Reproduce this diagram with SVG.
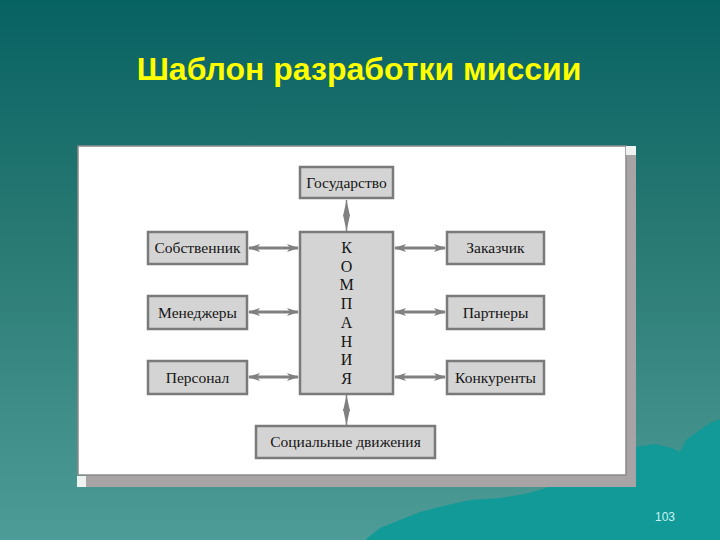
<svg xmlns="http://www.w3.org/2000/svg" width="720" height="540" viewBox="0 0 720 540">
<defs>
<linearGradient id="bg" x1="0" y1="0" x2="0" y2="1">
<stop offset="0" stop-color="#076262"/>
<stop offset="0.45" stop-color="#2a7a74"/>
<stop offset="1" stop-color="#4e9c97"/>
</linearGradient>
<marker id="ah" viewBox="0 0 12 8" refX="11" refY="4" markerWidth="12" markerHeight="8" markerUnits="userSpaceOnUse" orient="auto-start-reverse">
<path d="M0,0 L12,4 L0,8 L3,4 z" fill="#808080"/>
</marker>
<marker id="av" viewBox="0 0 16 7" refX="16" refY="3.5" markerWidth="16" markerHeight="7" markerUnits="userSpaceOnUse" orient="auto-start-reverse">
<path d="M0,0 L16,3.5 L0,7 z" fill="#808080"/>
</marker>
</defs>
<style>
.box{fill:#d4d4d4;stroke:#7a7a7a;stroke-width:2.5}
.lbl{font-family:"Liberation Serif","Times New Roman",serif;font-size:15.5px;fill:#151515;text-anchor:middle}
.let{font-size:16px}
.con{stroke:#808080;stroke-width:3;fill:none}
.conv{stroke:#808080;stroke-width:1.5;fill:none}
</style>
<rect x="0" y="0" width="720" height="540" fill="url(#bg)"/>
<path d="M365,540 L380,528 L400,520 L420,512 L443,506 L470,500 L500,498 L525,494 L540,490 L548,487 L575,487 L578,430 L636,430 L636,447 L655,444 L672,448 L680,452 L686,440 L700,430 L710,423 L720,419 L720,540 z" fill="#119a97"/>
<text x="359" y="80" font-family="'Liberation Sans',Arial,sans-serif" font-weight="bold" font-size="32" fill="#ffff00" text-anchor="middle">Шаблон разработки миссии</text>
<g id="panel">
<rect x="86" y="155" width="550" height="332" fill="#a8a4a6"/>
<rect x="78" y="146" width="548" height="329" fill="#ffffff" stroke="#8a8a8a" stroke-width="1.5"/>
<rect x="626" y="146" width="10" height="9" fill="#eef2f0"/>
<rect x="77" y="476" width="9" height="11" fill="#eef2f0"/>
</g>
<g id="connectors">
<line class="con" x1="249" y1="248" x2="298" y2="248" marker-start="url(#ah)" marker-end="url(#ah)"/>
<line class="con" x1="249" y1="312" x2="298" y2="312" marker-start="url(#ah)" marker-end="url(#ah)"/>
<line class="con" x1="249" y1="377" x2="298" y2="377" marker-start="url(#ah)" marker-end="url(#ah)"/>
<line class="con" x1="395" y1="248" x2="445" y2="248" marker-start="url(#ah)" marker-end="url(#ah)"/>
<line class="con" x1="395" y1="312" x2="445" y2="312" marker-start="url(#ah)" marker-end="url(#ah)"/>
<line class="con" x1="395" y1="377" x2="445" y2="377" marker-start="url(#ah)" marker-end="url(#ah)"/>
<line class="conv" x1="346.5" y1="200" x2="346.5" y2="231" marker-start="url(#av)" marker-end="url(#av)"/>
<line class="conv" x1="346.5" y1="395" x2="346.5" y2="425" marker-start="url(#av)" marker-end="url(#av)"/>
</g>
<g id="gosudarstvo"><rect class="box" x="300" y="167" width="93" height="31"/><text class="lbl" x="346.5" y="188">Государство</text></g>
<g id="kompaniya"><rect class="box" x="300" y="232" width="93" height="162"/>
<text class="lbl let" x="346.5" y="253">К</text>
<text class="lbl let" x="346.5" y="271.7">О</text>
<text class="lbl let" x="346.5" y="290.4">М</text>
<text class="lbl let" x="346.5" y="309.1">П</text>
<text class="lbl let" x="346.5" y="327.8">А</text>
<text class="lbl let" x="346.5" y="346.5">Н</text>
<text class="lbl let" x="346.5" y="365.2">И</text>
<text class="lbl let" x="346.5" y="384">Я</text>
</g>
<g id="sobstvennik"><rect class="box" x="148" y="232" width="99" height="32"/><text class="lbl" x="197.5" y="253">Собственник</text></g>
<g id="menedzhery"><rect class="box" x="148" y="296" width="99" height="33"/><text class="lbl" x="197.5" y="317.5">Менеджеры</text></g>
<g id="personal"><rect class="box" x="148" y="361" width="99" height="33"/><text class="lbl" x="197.5" y="382.5">Персонал</text></g>
<g id="zakazchik"><rect class="box" x="447" y="232" width="97" height="32"/><text class="lbl" x="495.5" y="253">Заказчик</text></g>
<g id="partnery"><rect class="box" x="447" y="296" width="97" height="33"/><text class="lbl" x="495.5" y="317.5">Партнеры</text></g>
<g id="konkurenty"><rect class="box" x="447" y="361" width="97" height="33"/><text class="lbl" x="495.5" y="382.5">Конкуренты</text></g>
<g id="socialnye"><rect class="box" x="256" y="426" width="179" height="32"/><text class="lbl" x="345.5" y="447">Социальные движения</text></g>
<text x="665" y="521" font-family="'Liberation Sans',Arial,sans-serif" font-size="12" fill="#c8f4f4" text-anchor="middle">103</text>
</svg>
